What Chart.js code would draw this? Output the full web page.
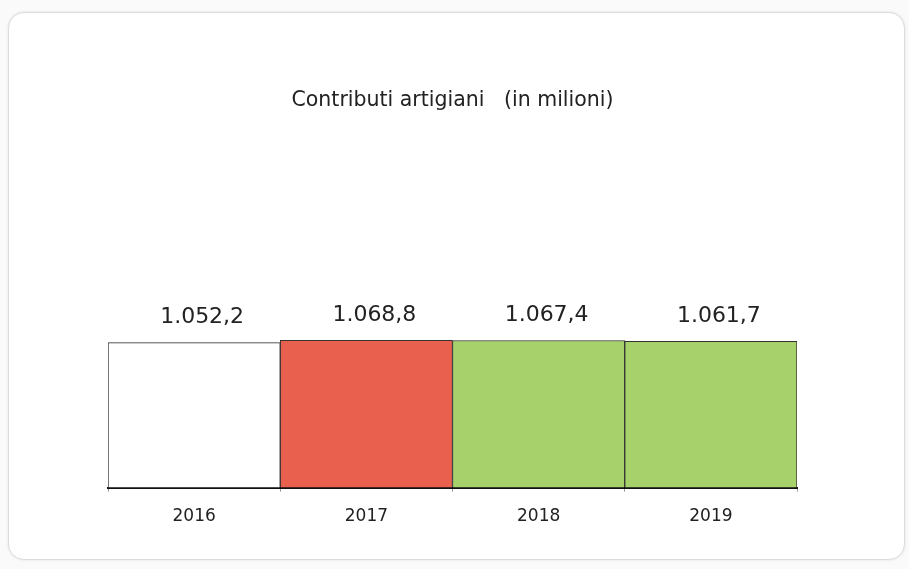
<!DOCTYPE html>
<html>
<head>
<meta charset="utf-8">
<script src="https://cdn.jsdelivr.net/npm/chart.js@4/dist/chart.umd.min.js"></script>
<style>
  html, body { margin:0; padding:0; background:#fafafa; }
  #wrap { position:relative; width:909px; height:569px; overflow:hidden; }
  #card { position:absolute; left:8px; top:12px; width:895px; height:546px;
          background:#fff; border:1px solid #dcdcdc; border-radius:16px;
          box-shadow:0 0 3px rgba(0,0,0,0.10); }
  #c { position:absolute; left:0; top:0; }
</style>
</head>
<body>
<div id="wrap">
  <div id="card"></div>
  <canvas id="c" width="909" height="569"></canvas>
</div>
<script>
// data
var years = ['2016', '2017', '2018', '2019'];
var contributi = [1052.2, 1068.8, 1067.4, 1061.7];
var barColors = ['#ffffff', '#ea604e', '#a7d26b', '#a7d26b'];
var chartTitle = 'Contributi artigiani   (in milioni)';

// 1.052,2 style
function fmtIt(v) {
  var parts = v.toFixed(1).split('.');
  var intPart = parts[0].replace(/\B(?=(\d{3})+(?!\d))/g, '.');
  return intPart + ',' + parts[1];
}

var valueLabels = {
  id: 'valueLabels',
  afterDatasetsDraw: function(chart) {
    var ctx = chart.ctx;
    var meta = chart.getDatasetMeta(0);
    ctx.save();
    ctx.font = '22px "DejaVu Sans"';
    ctx.fillStyle = '#222';
    ctx.textAlign = 'center';
    ctx.textBaseline = 'middle';
    meta.data.forEach(function(bar, i) {
      ctx.fillText(fmtIt(contributi[i]), bar.x + 8, bar.y - 25);
    });
    ctx.restore();
  }
};

new Chart(document.getElementById('c').getContext('2d'), {
  type: 'bar',
  data: {
    labels: years,
    datasets: [{
      data: contributi,
      backgroundColor: barColors,
      borderColor: '#333',
      borderWidth: 1,
      categoryPercentage: 1,
      barPercentage: 1
    }]
  },
  options: {
    responsive: false,
    animation: false,
    layout: { padding: { left: 108, right: 112, top: 0, bottom: 27 } },
    plugins: {
      legend: { display: false },
      tooltip: { enabled: false },
      title: {
        display: true,
        text: chartTitle,
        color: '#222',
        font: { family: 'DejaVu Sans', size: 20.5, weight: 'normal' },
        padding: { top: 88, bottom: 227.5 }
      }
    },
    scales: {
      x: {
        grid: { display: true, drawOnChartArea: false, tickLength: 4, color: '#999', offset: true },
        border: { display: true, color: '#111', width: 2 },
        ticks: { color: '#222', padding: 15, font: { family: 'DejaVu Sans', size: 17 } }
      },
      y: {
        display: false,
        min: 0,
        max: 1070
      }
    }
  },
  plugins: [valueLabels]
});
</script>
</body>
</html>
